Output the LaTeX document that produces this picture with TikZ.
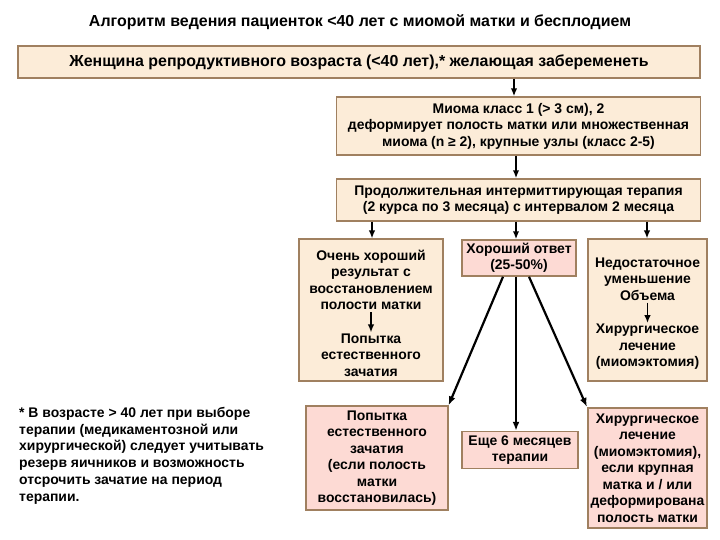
\documentclass[tikz,border=0pt]{standalone}
\usepackage{fontspec}
\setmainfont{Liberation Sans}
\usetikzlibrary{arrows.meta}
\definecolor{boxline}{RGB}{160,128,96}
\definecolor{beige}{RGB}{252,236,216}
\definecolor{rosy}{RGB}{253,218,212}
\begin{document}
\begin{tikzpicture}[x=1bp, y=-1bp,
    box/.style={draw=boxline, line width=1.6bp, fill=beige, inner sep=0pt},
    pinkbox/.style={box, fill=rosy},
    txt/.style={font=\fontsize{14}{16.5}\selectfont\bfseries, align=center, inner sep=0pt},
    arr/.style={-{Latex[length=8bp, width=6.5bp]}, line width=1.8bp},
    diag/.style={-{Latex[length=9bp, width=7bp]}, line width=2.2bp}]
    \useasboundingbox[fill=white] (0,0) rectangle (720,540);

    % Title
    \node[txt, font=\fontsize{16}{18}\selectfont\bfseries] (title) at (360,22)
        {Алгоритм ведения пациенток <40 лет с миомой матки и бесплодием};

    % Upper chain
    \node[box, minimum width=684, minimum height=32] (woman) at (359,62) {};
    \node[txt, font=\fontsize{16}{18}\selectfont\bfseries] at (woman)
        {Женщина репродуктивного возраста (<40 лет),* желающая забеременеть};
    \node[box, minimum width=365, minimum height=58] (myoma) at (518.5,126) {};
    \node[txt] at (myoma) {Миома класс 1 (> 3 см), 2\\деформирует полость матки или множественная\\миома (n ≥ 2), крупные узлы (класс 2-5)};
    \node[box, minimum width=365, minimum height=42] (therapy) at (518.5,200) {};
    \node[txt] at (therapy) {Продолжительная интермиттирующая терапия\\(2 курса по 3 месяца) с интервалом 2 месяца};

    % Result of therapy
    \node[box, minimum width=144, minimum height=142] (vgood) at (371,310) {};
    \node[txt] (vgoodA) at (371,280) {Очень хороший\\результат с\\восстановлением\\полости матки};
    \node[txt] (vgoodB) at (371,355) {Попытка\\естественного\\зачатия};
    \node[pinkbox, minimum width=114, minimum height=36] (good) at (519,258) {};
    \node[txt] at (good) {Хороший ответ\\(25-50\%)};
    \node[box, minimum width=119, minimum height=142] (poor) at (647.5,310) {};
    \node[txt] (poorA) at (647.5,279) {Недостаточное\\уменьшение\\Объема};
    \node[txt] (poorB) at (647.5,347) {Хирургическое\\лечение\\(миомэктомия)};

    % Lower row
    \node[pinkbox, minimum width=142, minimum height=104] (natural) at (377,458) {};
    \node[txt] at (natural) {Попытка\\естественного\\зачатия\\(если полость\\матки\\восстановилась)};
    \node[pinkbox, minimum width=116, minimum height=37] (more) at (520,450) {};
    \node[txt] at (more) {Еще 6 месяцев\\терапии};
    \node[pinkbox, minimum width=120, minimum height=121] (surgery) at (647.5,468) {};
    \node[txt] at (surgery) {Хирургическое\\лечение\\(миомэктомия),\\если крупная\\матка и / или\\деформирована\\полость матки};

    % Footnote
    \node[txt, align=left, anchor=north west, font=\fontsize{14}{16.8}\selectfont\bfseries] (note) at (19,407)
        {* В возрасте > 40 лет при выборе\\терапии (медикаментозной или\\хирургической) следует учитывать\\резерв яичников и возможность\\отсрочить зачатие на период\\терапии.};

    % Arrows
    \draw[arr] (woman.south -| 514,0) -- (myoma.north -| 514,0);
    \draw[arr] (myoma.south -| 516,0) -- (therapy.north -| 516,0);
    \draw[arr] (therapy.south -| 372,0) -- (vgood.north -| 372,0);
    \draw[arr] (therapy.south -| 516,0) -- (good.north -| 516,0);
    \draw[arr] (therapy.south -| 647,0) -- (poor.north -| 647,0);
    \draw[arr, shorten <=2bp, shorten >=1bp] (vgoodA) -- (vgoodB);
    \draw[arr, shorten <=2bp, shorten >=1bp] (poorA) -- (poorB);
    \draw[diag] (good.south -| 503,0) -- (natural.north east);
    \draw[diag] (good.south -| 516,0) -- (more.north -| 516,0);
    \draw[diag] (good.south -| 529,0) -- (surgery.north west);
\end{tikzpicture}
\end{document}
